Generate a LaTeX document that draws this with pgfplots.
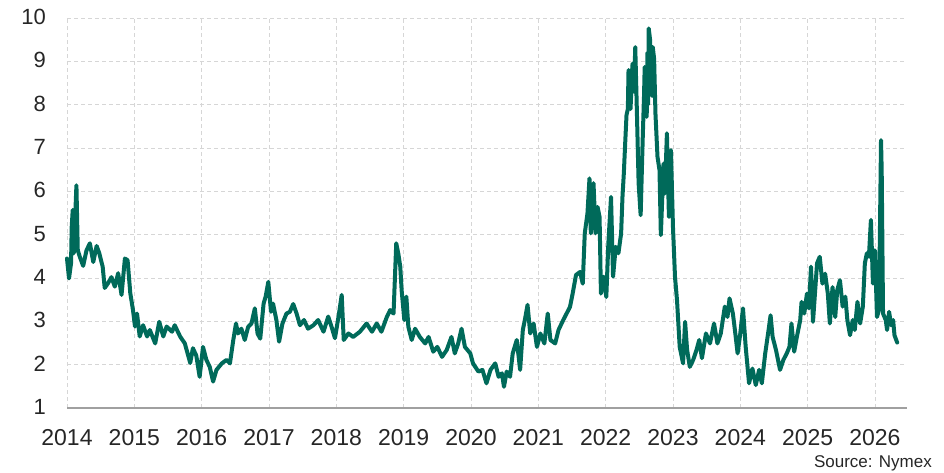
\documentclass[border=0pt]{standalone}
\usepackage{pgfplots}
\pgfplotsset{compat=1.18}
\usepackage{pgfplotstable}
\usepackage{fontspec}
\setmainfont{Liberation Sans}
\definecolor{teal1}{HTML}{006A5A}
\definecolor{gridc}{HTML}{D6D6D6}
\definecolor{axc}{HTML}{A0A0A0}
\definecolor{txt}{HTML}{262626}
\pgfplotstableread{
x y
2014.00 4.45
2014.03 3.99
2014.06 4.34
2014.07 5.18
2014.085 5.57
2014.10 4.57
2014.14 6.14
2014.16 4.64
2014.19 4.49
2014.24 4.28
2014.29 4.64
2014.34 4.80
2014.39 4.37
2014.44 4.74
2014.48 4.57
2014.53 4.26
2014.56 3.77
2014.61 3.88
2014.66 4.02
2014.71 3.80
2014.76 4.11
2014.81 3.61
2014.86 4.45
2014.90 4.41
2014.94 3.65
2014.98 3.26
2015.01 2.88
2015.04 3.18
2015.08 2.65
2015.13 2.91
2015.19 2.65
2015.23 2.80
2015.31 2.49
2015.37 2.99
2015.43 2.65
2015.48 2.88
2015.56 2.76
2015.60 2.91
2015.68 2.65
2015.75 2.49
2015.83 2.04
2015.87 2.38
2015.92 2.21
2015.97 1.72
2016.02 2.41
2016.07 2.11
2016.12 1.95
2016.17 1.61
2016.22 1.88
2016.30 2.03
2016.37 2.11
2016.42 2.03
2016.47 2.57
2016.51 2.95
2016.54 2.72
2016.59 2.83
2016.64 2.57
2016.69 2.87
2016.74 2.95
2016.79 3.30
2016.83 2.72
2016.87 2.60
2016.92 3.41
2016.95 3.57
2016.99 3.91
2017.03 3.22
2017.06 3.41
2017.11 3.03
2017.15 2.53
2017.20 2.95
2017.26 3.18
2017.31 3.22
2017.36 3.40
2017.41 3.18
2017.46 2.91
2017.52 3.03
2017.58 2.83
2017.66 2.91
2017.73 3.03
2017.81 2.76
2017.88 3.11
2017.93 2.87
2017.98 2.61
2018.04 3.18
2018.08 3.61
2018.11 2.57
2018.18 2.72
2018.25 2.64
2018.35 2.76
2018.45 2.95
2018.53 2.76
2018.60 2.95
2018.67 2.76
2018.75 3.10
2018.80 3.26
2018.85 3.18
2018.89 4.80
2018.92 4.57
2018.95 4.26
2018.97 3.72
2019.01 3.03
2019.04 3.57
2019.07 2.87
2019.12 2.57
2019.17 2.83
2019.24 2.64
2019.32 2.49
2019.37 2.64
2019.44 2.30
2019.50 2.41
2019.57 2.18
2019.64 2.34
2019.71 2.64
2019.76 2.26
2019.81 2.49
2019.86 2.83
2019.91 2.41
2019.99 2.26
2020.03 2.03
2020.11 1.84
2020.17 1.88
2020.23 1.57
2020.29 1.88
2020.36 2.03
2020.41 1.72
2020.46 1.80
2020.49 1.49
2020.53 1.84
2020.58 1.72
2020.62 2.26
2020.68 2.57
2020.73 1.88
2020.77 2.80
2020.80 3.03
2020.84 3.38
2020.88 2.72
2020.93 2.95
2020.98 2.41
2021.03 2.72
2021.09 2.49
2021.14 3.18
2021.18 2.57
2021.25 2.49
2021.30 2.80
2021.37 3.03
2021.42 3.18
2021.47 3.33
2021.51 3.64
2021.56 4.07
2021.62 4.14
2021.66 3.87
2021.69 5.03
2021.73 5.49
2021.76 6.30
2021.78 5.03
2021.82 6.19
2021.85 5.03
2021.88 5.64
2021.91 5.41
2021.93 3.64
2021.97 4.03
2022.01 3.56
2022.04 4.79
2022.08 5.87
2022.11 4.03
2022.15 4.72
2022.19 4.57
2022.23 5.03
2022.25 5.87
2022.27 6.41
2022.29 7.10
2022.31 7.76
2022.33 7.90
2022.34 8.80
2022.35 8.40
2022.36 8.38
2022.37 7.90
2022.39 8.70
2022.40 8.95
2022.42 8.30
2022.44 9.33
2022.46 8.10
2022.49 6.18
2022.52 5.45
2022.55 7.18
2022.57 8.20
2022.58 8.87
2022.59 8.10
2022.61 7.72
2022.62 9.20
2022.63 8.00
2022.64 9.76
2022.66 9.50
2022.67 8.87
2022.69 8.20
2022.70 9.33
2022.72 9.06
2022.74 7.79
2022.77 6.80
2022.80 6.49
2022.82 4.99
2022.86 6.64
2022.88 5.95
2022.91 7.34
2022.94 5.41
2022.97 6.95
2023.00 5.18
2023.03 4.03
2023.06 3.49
2023.10 2.41
2023.15 2.03
2023.18 2.99
2023.21 2.34
2023.25 1.95
2023.30 2.11
2023.35 2.34
2023.39 2.57
2023.43 2.15
2023.49 2.72
2023.55 2.49
2023.61 2.95
2023.66 2.49
2023.71 2.72
2023.77 3.34
2023.81 3.10
2023.84 3.53
2023.89 3.18
2023.92 2.80
2023.96 2.26
2024.00 2.72
2024.04 3.30
2024.08 2.41
2024.13 1.57
2024.18 1.91
2024.23 1.53
2024.28 1.88
2024.32 1.57
2024.37 2.26
2024.42 2.80
2024.45 3.14
2024.48 2.64
2024.53 2.34
2024.59 1.88
2024.64 2.11
2024.69 2.26
2024.73 2.41
2024.76 2.95
2024.80 2.30
2024.84 2.64
2024.89 3.03
2024.91 3.45
2024.95 3.18
2024.99 3.64
2025.02 3.30
2025.05 4.26
2025.08 2.99
2025.14 4.34
2025.18 4.49
2025.22 3.87
2025.26 4.10
2025.30 3.64
2025.33 2.95
2025.37 3.79
2025.41 3.10
2025.44 3.72
2025.48 3.95
2025.52 3.34
2025.56 3.57
2025.59 3.03
2025.63 2.68
2025.67 3.03
2025.70 2.80
2025.74 3.45
2025.78 2.95
2025.82 3.34
2025.85 4.34
2025.88 4.57
2025.91 4.49
2025.94 5.34
2025.97 3.87
2026.00 4.64
2026.03 3.10
2026.06 3.26
2026.09 7.18
2026.10 6.49
2026.12 3.18
2026.16 3.03
2026.18 2.80
2026.21 3.22
2026.24 2.91
2026.27 3.03
2026.29 2.68
2026.33 2.51
}\gasdata
\begin{document}
\begin{tikzpicture}
\path[use as bounding box] (-67bp,-65bp) rectangle (877bp,408bp);
\begin{axis}[
  at={(0,0)}, anchor=south west,
  scale only axis,
  width=840bp, height=390bp,
  xmin=2014, xmax=2026.476,
  ymin=1, ymax=10,
  axis line style={draw=none},
  xtick={2014,2015,2016,2017,2018,2019,2020,2021,2022,2023,2024,2025,2026},
  xticklabels={2014,2015,2016,2017,2018,2019,2020,2021,2022,2023,2024,2025,2026},
  ytick={1,2,3,4,5,6,7,8,9,10},
  yticklabels={1,2,3,4,5,6,7,8,9,10},
  major tick length=0pt,
  grid=major,
  major grid style={draw=gridc, line width=0.9bp, dash pattern=on 4bp off 3bp},
  xticklabel style={font=\fontsize{23bp}{26bp}\selectfont, text=txt, anchor=base, inner sep=0pt, yshift=-37bp},
  yticklabel style={font=\fontsize{22bp}{25bp}\selectfont, text=txt, anchor=east, inner sep=0pt, xshift=-21bp, yshift=1bp},
  clip=false,
]
\draw[axc, line width=1.6bp] (rel axis cs:0,0) -- (rel axis cs:1,0);
\addplot[teal1, line width=4bp, line join=round, line cap=round] table[x=x,y=y] {\gasdata};
\end{axis}
\node[anchor=base east, inner sep=0pt, text=txt, font=\fontsize{17bp}{20bp}\selectfont] at (865bp,-59bp) {Source: Nymex};
\end{tikzpicture}
\end{document}
